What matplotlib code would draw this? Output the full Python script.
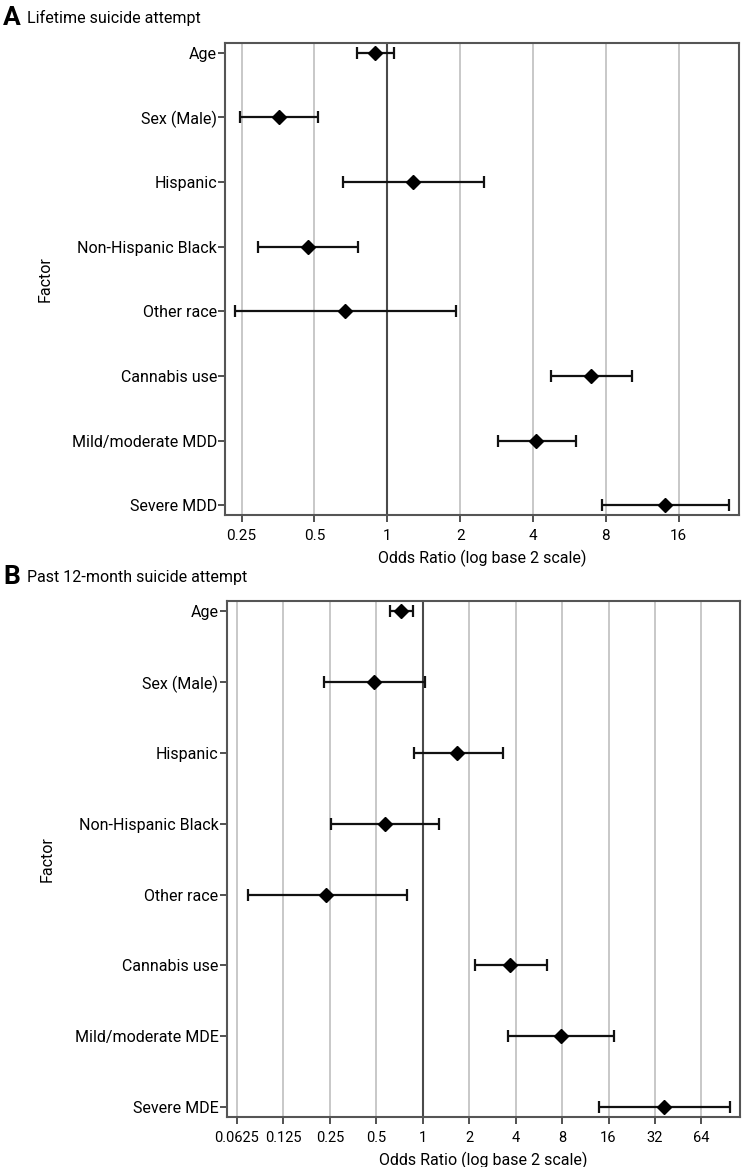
import numpy as np
import matplotlib
matplotlib.use("Agg")
from matplotlib import pyplot as plt

plt.rcParams['font.family'] = ['Roboto', 'DejaVu Sans']

# panel A: lifetime suicide attempt
factors_a = ['Age', 'Sex (Male)', 'Hispanic', 'Non-Hispanic Black', 'Other race',
             'Cannabis use', 'Mild/moderate MDD', 'Severe MDD']
or_a = [0.889, 0.356, 1.273, 0.469, 0.666, 6.92, 4.10, 14.09]
lo_a = [0.751, 0.246, 0.654, 0.293, 0.235, 4.73, 2.87, 7.69]
hi_a = [1.065, 0.517, 2.517, 0.759, 1.928, 10.26, 6.00, 25.9]
ticks_a = [0.25, 0.5, 1, 2, 4, 8, 16]
ticklabels_a = ['0.25', '0.5', '1', '2', '4', '8', '16']

# panel B: past 12-month suicide attempt
factors_b = ['Age', 'Sex (Male)', 'Hispanic', 'Non-Hispanic Black', 'Other race',
             'Cannabis use', 'Mild/moderate MDE', 'Severe MDE']
or_b = [0.724, 0.486, 1.669, 0.567, 0.238, 3.70, 7.87, 36.6]
lo_b = [0.611, 0.229, 0.874, 0.254, 0.0736, 2.19, 3.59, 13.95]
hi_b = [0.861, 1.035, 3.315, 1.276, 0.788, 6.36, 17.36, 97.9]
ticks_b = [0.0625, 0.125, 0.25, 0.5, 1, 2, 4, 8, 16, 32, 64]
ticklabels_b = ['0.0625', '0.125', '0.25', '0.5', '1', '2', '4', '8', '16', '32', '64']

fig = plt.figure(figsize=(7.47, 11.67), dpi=100)
FS = 11.5

def forest(ax, factors, ors, lo, hi, ticks, labels, xlim, ylim):
    y = np.arange(len(factors))
    ors = np.array(ors); lo = np.array(lo); hi = np.array(hi)
    ax.set_xscale('log', base=2)
    for t in ticks:
        if t == 1:
            ax.axvline(t, color='#4a4a4a', lw=1.5, zorder=1)
        else:
            ax.axvline(t, color='#c8c8c8', lw=1.4, zorder=0)
    ax.errorbar(ors, y, xerr=[ors - lo, hi - ors], fmt='D', color='black',
                ms=6.8, ecolor='#111111', elinewidth=1.6, capsize=4.6,
                capthick=1.6, zorder=3)
    ax.set_xticks(ticks)
    ax.set_xticklabels(labels)
    ax.minorticks_off()
    ax.set_yticks(y)
    ax.set_yticklabels(factors)
    ax.set_xlim(*xlim)
    ax.set_ylim(*ylim)
    for s in ax.spines.values():
        s.set_color('#555555')
        s.set_linewidth(1.5)
    ax.tick_params(axis='both', direction='out', length=5, width=1.2,
                   color='#333333', labelsize=FS)
    ax.tick_params(axis='y', pad=1)
    ax.tick_params(axis='x', pad=5, labelsize=11)
    ax.set_xlabel('Odds Ratio (log base 2 scale)', fontsize=FS, labelpad=5)
    ax.set_ylabel('Factor', fontsize=FS, labelpad=14)

ax1 = fig.add_axes([0.3016, 0.5587, 0.9889 - 0.3016, 0.9629 - 0.5587])
forest(ax1, factors_a, or_a, lo_a, hi_a, ticks_a, ticklabels_a,
       (2 ** -2.224, 2 ** 4.824), (7.15, -0.145))

ax2 = fig.add_axes([0.3035, 0.0431, 0.9902 - 0.3035, 0.4847 - 0.0431])
forest(ax2, factors_b, or_b, lo_b, hi_b, ticks_b, ticklabels_b,
       (2 ** -4.218, 2 ** 6.822), (7.137, -0.141))
ax2.tick_params(axis='x', labelsize=10.5)

fig.text(0.004, 0.985, 'A', fontsize=19, fontweight='bold', va='center', ha='left')
fig.text(0.036, 0.985, 'Lifetime suicide attempt', fontsize=FS, va='center', ha='left')
fig.text(0.004, 0.5055, 'B', fontsize=19, fontweight='bold', va='center', ha='left')
fig.text(0.036, 0.5055, 'Past 12-month suicide attempt', fontsize=FS, va='center', ha='left')

fig.savefig('out.png', dpi=100)
